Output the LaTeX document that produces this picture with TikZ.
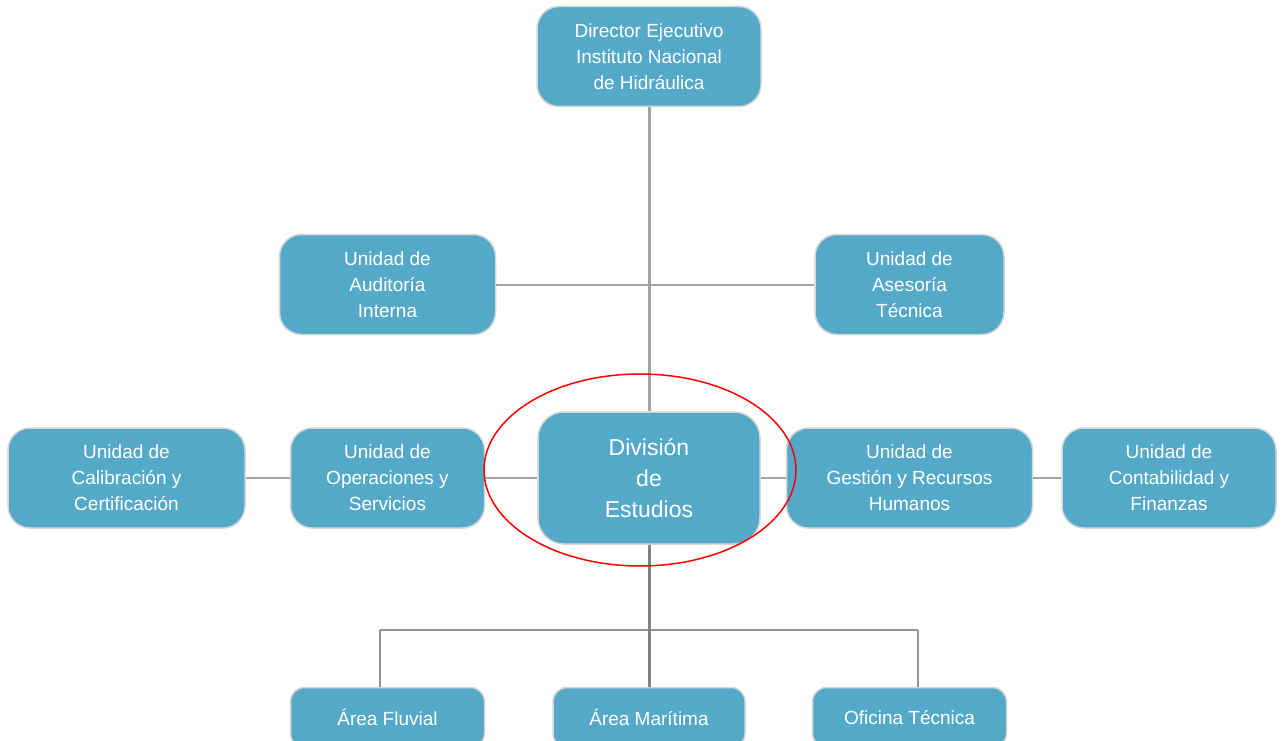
\documentclass[tikz,border=0pt]{standalone}
\usepackage{fontspec}
\setmainfont{Liberation Sans}
\usetikzlibrary{positioning}
\definecolor{unitblue}{HTML}{55A9C8}
\definecolor{unitedge}{HTML}{D6D6D6}
\definecolor{linkgray}{HTML}{A3A3A3}
\tikzset{
  every picture/.append style={line width=1pt},
}

\begin{document}
\begin{tikzpicture}[
  x=1pt, y=-1pt,
  unit/.style={rectangle, draw=unitedge, line width=1.5pt, fill=unitblue, rounded corners=22pt, align=center, inner sep=2pt, text=white, font=\fontsize{19}{26}\selectfont, minimum height=100pt},
  division/.style={unit, font=\fontsize{23}{31}\selectfont, minimum width=222pt, minimum height=132pt, rounded corners=26pt},
  area/.style={unit, minimum height=60pt, rounded corners=14pt, minimum width=194pt},
  link/.style={draw=linkgray, line width=2pt},
  linkThick/.style={draw=linkgray!80!black, line width=3pt},
  linkThin/.style={draw=linkgray!90!black, line width=1.5pt},
  marker/.style={draw=red, line width=1.5pt}
]

% Page frame
\clip (0,0) rectangle (1286,741);
\fill[white] (0,0) rectangle (1286,741);

% Central division
\node[division] (division) at (649,478) {División\\de\\Estudios};

% Director (top)
\node[unit, minimum width=224pt, above=304pt of division] (director) {Director Ejecutivo\\Instituto Nacional\\de Hidráulica};

% Middle row
\node[unit, minimum width=194pt, left=52pt of division] (operaciones) {Unidad de\\Operaciones y\\Servicios};
\node[unit, minimum width=237pt, left=44pt of operaciones] (calibracion) {Unidad de\\Calibración y\\Certificación};
\node[unit, minimum width=246pt, right=25pt of division] (gestion) {Unidad de\\Gestión y Recursos\\Humanos};
\node[unit, minimum width=214pt, right=28pt of gestion] (contabilidad) {Unidad de\\Contabilidad y\\Finanzas};

% Staff units
\node[unit, minimum width=216pt, above=92pt of operaciones] (auditoria) {Unidad de\\Auditoría\\Interna};
\node[unit, minimum width=189pt, above=92pt of gestion] (asesoria) {Unidad de\\Asesoría\\Técnica};

% Bottom row
\node[area, below=158pt of operaciones] (fluvial) {Área Fluvial};
\node[area, minimum width=192pt, below=142pt of division] (maritima) {Área Marítima};
\node[area, below=158pt of gestion] (oficina) {Oficina Técnica};

% Bus coordinates
\coordinate (busL) at (380,630);
\coordinate (busR) at (918,630);

% Connectors
\draw[link, line width=3pt] (director.south) -- (division.north);
\draw[link] (auditoria.east) -- (asesoria.west);
\draw[link] (calibracion.east) -- (operaciones.west);
\draw[link] (operaciones.east) -- (division.west);
\draw[link] (division.east) -- (gestion.west);
\draw[link] (gestion.east) -- (contabilidad.west);
\draw[linkThin] (busL) -- (busR);
\draw[linkThin] (busL) -- (busL |- fluvial.north);
\draw[linkThin] (busR) -- (busR |- oficina.north);
\draw[linkThick] (division.south) -- (maritima.north);

% Highlight
\draw[marker] (640,470) ellipse [x radius=156, y radius=96];

\end{tikzpicture}
\end{document}
